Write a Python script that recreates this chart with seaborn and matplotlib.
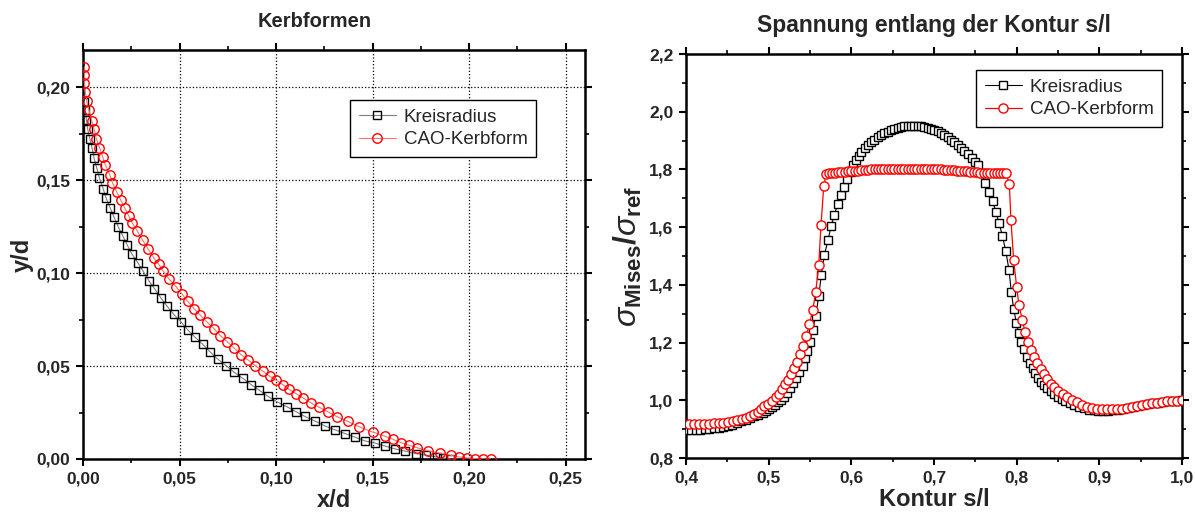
import numpy as np
import pandas as pd
import seaborn as sns
import matplotlib.pyplot as plt
from matplotlib.ticker import FuncFormatter, MultipleLocator

# ---- Kerbformen (left panel) ----
kreis_x = [0.0007, 0.0012, 0.0017, 0.0024, 0.0035, 0.0047, 0.0057, 0.0071, 0.0085, 0.0104,
           0.0119, 0.0140, 0.0161, 0.0182, 0.0206, 0.0230, 0.0254, 0.0284, 0.0312, 0.0341,
           0.0370, 0.0403, 0.0434, 0.0469, 0.0507, 0.0543, 0.0580, 0.0620, 0.0658, 0.0697,
           0.0741, 0.0784, 0.0827, 0.0871, 0.0914, 0.0957, 0.1007, 0.1056, 0.1104, 0.1149,
           0.1201, 0.1253, 0.1305, 0.1357, 0.1409, 0.1461, 0.1514, 0.1566, 0.1618, 0.1670,
           0.1724, 0.1779, 0.1831, 0.1865, 0.1900]
kreis_y = [0.1922, 0.1879, 0.1825, 0.1775, 0.1723, 0.1671, 0.1619, 0.1565, 0.1511, 0.1455,
           0.1405, 0.1352, 0.1300, 0.1250, 0.1200, 0.1149, 0.1101, 0.1056, 0.1009, 0.0959,
           0.0917, 0.0867, 0.0824, 0.0779, 0.0738, 0.0694, 0.0655, 0.0617, 0.0576, 0.0538,
           0.0502, 0.0466, 0.0434, 0.0400, 0.0369, 0.0338, 0.0306, 0.0281, 0.0254, 0.0229,
           0.0204, 0.0178, 0.0157, 0.0137, 0.0117, 0.0097, 0.0085, 0.0069, 0.0054, 0.0042,
           0.0029, 0.0020, 0.0011, 0.0005, 0.0000]

cao_x = [0.0007, 0.0007, 0.0007, 0.0012, 0.0019, 0.0031, 0.0045, 0.0057, 0.0069, 0.0085,
         0.0102, 0.0116, 0.0138, 0.0152, 0.0175, 0.0194, 0.0215, 0.0237, 0.0256, 0.0282,
         0.0308, 0.0337, 0.0367, 0.0391, 0.0415, 0.0443, 0.0483, 0.0511, 0.0542, 0.0575,
         0.0607, 0.0640, 0.0680, 0.0711, 0.0748, 0.0782, 0.0819, 0.0857, 0.0893, 0.0931,
         0.0966, 0.1002, 0.1035, 0.1068, 0.1104, 0.1139, 0.1180, 0.1222, 0.1268, 0.1317,
         0.1372, 0.1431, 0.1502, 0.1563, 0.1606, 0.1646, 0.1689, 0.1732, 0.1789, 0.1848,
         0.1904, 0.1947, 0.1990, 0.2030, 0.2072, 0.2111]
cao_y = [0.2109, 0.2064, 0.2023, 0.1975, 0.1924, 0.1876, 0.1820, 0.1775, 0.1723, 0.1676,
         0.1624, 0.1581, 0.1530, 0.1487, 0.1435, 0.1396, 0.1352, 0.1307, 0.1268, 0.1225,
         0.1178, 0.1130, 0.1081, 0.1049, 0.1011, 0.0971, 0.0926, 0.0889, 0.0849, 0.0809,
         0.0774, 0.0739, 0.0700, 0.0664, 0.0630, 0.0597, 0.0561, 0.0531, 0.0502, 0.0473,
         0.0446, 0.0423, 0.0400, 0.0374, 0.0351, 0.0329, 0.0302, 0.0279, 0.0254, 0.0227,
         0.0202, 0.0173, 0.0144, 0.0123, 0.0105, 0.0088, 0.0074, 0.0060, 0.0044, 0.0031,
         0.0020, 0.0011, 0.0006, 0.0002, 0.0000, 0.0000]

# ---- Spannung entlang der Kontur (right panel) ----
sp_kreis_x = [0.4008, 0.4063, 0.4118, 0.4173, 0.4228, 0.4283, 0.4338, 0.4393, 0.4448, 0.4503,
              0.4558, 0.4613, 0.4668, 0.4723, 0.4775, 0.4825, 0.4875, 0.4925, 0.4968, 0.5005,
              0.5040, 0.5075, 0.5110, 0.5145, 0.5182,
              0.5218, 0.5258, 0.5298, 0.5331, 0.5371, 0.5412, 0.5440, 0.5467, 0.5500, 0.5533,
              0.5569, 0.5605, 0.5637, 0.5673, 0.5718, 0.5754, 0.5794, 0.5835, 0.5871, 0.5915,
              0.5951, 0.5992,
              0.6024, 0.6057, 0.6089, 0.6121, 0.6162, 0.6198, 0.6238, 0.6278, 0.6319, 0.6359,
              0.6399, 0.6440, 0.6480, 0.6520, 0.6561, 0.6601, 0.6641, 0.6682, 0.6722, 0.6762,
              0.6803, 0.6843, 0.6883, 0.6924, 0.6964, 0.7004, 0.7045, 0.7085, 0.7125, 0.7166,
              0.7206, 0.7246, 0.7287, 0.7327, 0.7367, 0.7416, 0.7460, 0.7496, 0.7536,
              0.7575, 0.7617, 0.7669, 0.7710, 0.7746, 0.7786, 0.7826, 0.7867, 0.7907, 0.7935,
              0.7964, 0.7996, 0.8024, 0.8056, 0.8093, 0.8129, 0.8161, 0.8194, 0.8226, 0.8262,
              0.8298, 0.8335, 0.8371, 0.8416, 0.8456, 0.8496, 0.8545, 0.8589, 0.8645, 0.8697,
              0.8750, 0.8810, 0.8870, 0.8930, 0.8990, 0.9050, 0.9110, 0.9170, 0.9230, 0.9290,
              0.9350, 0.9410, 0.9470, 0.9530, 0.9590, 0.9650, 0.9710, 0.9770, 0.9830, 0.9890,
              0.9950, 1.0000]
sp_kreis_y = [0.897, 0.897, 0.897, 0.898, 0.900, 0.902, 0.903, 0.905, 0.908, 0.911,
              0.916, 0.921, 0.927, 0.933, 0.938, 0.944, 0.950, 0.957, 0.963, 0.970,
              0.977, 0.984, 0.993, 1.001, 1.011,
              1.024, 1.042, 1.059, 1.076, 1.099, 1.119, 1.146, 1.172, 1.203, 1.243,
              1.293, 1.361, 1.435, 1.503, 1.556, 1.603, 1.642, 1.680, 1.712, 1.740,
              1.766, 1.791,
              1.816, 1.833, 1.847, 1.860, 1.873, 1.885, 1.894, 1.903, 1.911, 1.918,
              1.925, 1.931, 1.937, 1.941, 1.945, 1.947, 1.950, 1.951, 1.952, 1.952,
              1.951, 1.950, 1.947, 1.945, 1.941, 1.937, 1.932, 1.926, 1.920, 1.911,
              1.903, 1.894, 1.885, 1.876, 1.865, 1.854, 1.841, 1.827, 1.816,
              1.787, 1.752, 1.723, 1.692, 1.654, 1.616, 1.571, 1.519, 1.452, 1.376,
              1.316, 1.269, 1.234, 1.203, 1.177, 1.149, 1.130, 1.111, 1.094, 1.078,
              1.064, 1.053, 1.042, 1.031, 1.022, 1.012, 1.004, 0.997, 0.990, 0.984,
              0.978, 0.972, 0.968, 0.965, 0.964, 0.963, 0.964, 0.966, 0.968, 0.970,
              0.973, 0.977, 0.980, 0.984, 0.987, 0.990, 0.992, 0.995, 0.997, 0.999,
              0.999, 1.001]

sp_cao_x = [0.4040, 0.4097, 0.4157, 0.4218, 0.4278, 0.4339, 0.4396, 0.4451, 0.4508, 0.4565,
            0.4621, 0.4674, 0.4726, 0.4774, 0.4823, 0.4867, 0.4904, 0.4947, 0.4996, 0.5037,
            0.5085, 0.5121, 0.5158, 0.5194, 0.5238, 0.5274, 0.5310, 0.5346, 0.5383, 0.5419,
            0.5456, 0.5492, 0.5533, 0.5569, 0.5605, 0.5633, 0.5666,
            0.5694, 0.5725, 0.5760, 0.5800, 0.5840, 0.5880, 0.5920, 0.5960, 0.6000, 0.6040,
            0.6080, 0.6120, 0.6160, 0.6200, 0.6240, 0.6280, 0.6320, 0.6360, 0.6400, 0.6440,
            0.6480, 0.6520, 0.6560, 0.6600, 0.6640, 0.6680, 0.6720, 0.6760, 0.6800, 0.6840,
            0.6880, 0.6920, 0.6960, 0.7000, 0.7040, 0.7080, 0.7120, 0.7160, 0.7200, 0.7240,
            0.7280, 0.7320, 0.7360, 0.7400, 0.7440, 0.7480, 0.7520, 0.7560, 0.7600, 0.7640,
            0.7680, 0.7720, 0.7760, 0.7800, 0.7840, 0.7871,
            0.7911, 0.7931, 0.7964, 0.8000, 0.8028, 0.8068, 0.8101, 0.8137, 0.8170, 0.8210,
            0.8250, 0.8290, 0.8330, 0.8370, 0.8410, 0.8452, 0.8504, 0.8557, 0.8609, 0.8666,
            0.8726, 0.8787, 0.8847, 0.8908, 0.8968, 0.9029, 0.9089, 0.9150, 0.9210, 0.9271,
            0.9331, 0.9392, 0.9452, 0.9513, 0.9573, 0.9634, 0.9694, 0.9755, 0.9815, 0.9875,
            0.9936, 0.9996]
sp_cao_y = [0.917, 0.918, 0.918, 0.918, 0.919, 0.920, 0.921, 0.922, 0.924, 0.927,
            0.931, 0.934, 0.940, 0.946, 0.954, 0.959, 0.969, 0.979, 0.987, 0.999,
            1.010, 1.023, 1.039, 1.055, 1.070, 1.091, 1.112, 1.134, 1.160, 1.188,
            1.223, 1.263, 1.313, 1.376, 1.468, 1.608, 1.743,
            1.783, 1.786, 1.788, 1.789, 1.790, 1.791, 1.792, 1.793, 1.794, 1.795,
            1.796, 1.797, 1.798, 1.799, 1.800, 1.800, 1.801, 1.801, 1.802, 1.802,
            1.802, 1.803, 1.803, 1.803, 1.803, 1.803, 1.803, 1.803, 1.803, 1.802,
            1.802, 1.802, 1.801, 1.801, 1.800, 1.800, 1.799, 1.798, 1.797, 1.797,
            1.796, 1.795, 1.794, 1.793, 1.792, 1.791, 1.790, 1.789, 1.788, 1.787,
            1.787, 1.786, 1.786, 1.786, 1.786, 1.786,
            1.750, 1.624, 1.485, 1.392, 1.329, 1.278, 1.237, 1.202, 1.174, 1.149,
            1.130, 1.110, 1.092, 1.075, 1.058, 1.045, 1.033, 1.022, 1.012, 1.001,
            0.993, 0.984, 0.978, 0.973, 0.971, 0.969, 0.969, 0.969, 0.969, 0.970,
            0.972, 0.977, 0.980, 0.984, 0.987, 0.990, 0.992, 0.995, 0.997, 0.999,
            0.999, 1.001]

sns.set_style("ticks")
plt.rcParams['font.family'] = ['Liberation Sans', 'DejaVu Sans']
plt.rcParams['mathtext.fontset'] = 'custom'
plt.rcParams['mathtext.rm'] = 'Liberation Sans'
plt.rcParams['mathtext.bf'] = 'Liberation Sans:bold'
plt.rcParams['mathtext.it'] = 'Liberation Sans:italic'
plt.rcParams['mathtext.sf'] = 'Liberation Sans'

fig = plt.figure(figsize=(11.95, 5.13), dpi=100)
ax1 = fig.add_axes([0.0695, 0.1053, 0.4200, 0.7970])
ax2 = fig.add_axes([0.5741, 0.1072, 0.4150, 0.7875])


def comma(fmt):
    return FuncFormatter(lambda v, p: (fmt % v).replace('.', ','))


def style_axes(ax):
    for s in ax.spines.values():
        s.set_color('black')
        s.set_linewidth(1.8)
    ax.tick_params(which='both', direction='out', color='black',
                   top=True, right=True, labeltop=False, labelright=False)
    ax.tick_params(which='major', length=5, width=1.5, labelsize=12.5, pad=4)
    ax.tick_params(which='minor', length=3, width=1.2)
    for lab in ax.get_xticklabels() + ax.get_yticklabels():
        lab.set_fontweight('bold')


def add_legend(ax, anchor):
    leg = ax.legend(loc='upper left', bbox_to_anchor=anchor, fontsize=13.5,
                    frameon=True, fancybox=False, edgecolor='black', framealpha=1,
                    handlelength=2.0, borderpad=0.45, labelspacing=0.3, handletextpad=0.4,
                    borderaxespad=0)
    leg.get_frame().set_linewidth(1.0)


# left: notch shapes
sns.lineplot(x=kreis_x, y=kreis_y, ax=ax1, sort=False, estimator=None,
             color='#808080', lw=0.8, marker='s', markersize=6,
             markerfacecolor='none', markeredgecolor='black', markeredgewidth=1.0,
             label='Kreisradius', zorder=3)
sns.lineplot(x=cao_x, y=cao_y, ax=ax1, sort=False, estimator=None,
             color='#ff7070', lw=0.8, marker='o', markersize=6.8,
             markerfacecolor='none', markeredgecolor='red', markeredgewidth=1.0,
             label='CAO-Kerbform', zorder=4)
ax1.set_xlim(0, 0.26)
ax1.set_ylim(0, 0.22)
ax1.xaxis.set_major_locator(MultipleLocator(0.05))
ax1.xaxis.set_minor_locator(MultipleLocator(0.025))
ax1.yaxis.set_major_locator(MultipleLocator(0.05))
ax1.yaxis.set_minor_locator(MultipleLocator(0.025))
ax1.xaxis.set_major_formatter(comma('%.2f'))
ax1.yaxis.set_major_formatter(comma('%.2f'))
ax1.grid(True, which='major', linestyle=':', color='black', linewidth=0.9)
ax1.set_axisbelow(True)
ax1.set_xlabel('x/d', fontsize=17, fontweight='bold', labelpad=2)
ax1.set_ylabel('y/d', fontsize=17, fontweight='bold', labelpad=2)
ax1.set_title('Kerbformen', fontsize=14.5, fontweight='bold', pad=17, x=0.462)
style_axes(ax1)
add_legend(ax1, (0.532, 0.878))

# right: stress along contour
sns.lineplot(x=sp_kreis_x, y=sp_kreis_y, ax=ax2, sort=False, estimator=None,
             color='black', lw=0.8, marker='s', markersize=5.6,
             markerfacecolor='white', markeredgecolor='black', markeredgewidth=1.0,
             label='Kreisradius', zorder=3)
sns.lineplot(x=sp_cao_x, y=sp_cao_y, ax=ax2, sort=False, estimator=None,
             color='red', lw=0.9, marker='o', markersize=6.6,
             markerfacecolor='white', markeredgecolor='red', markeredgewidth=1.0,
             label='CAO-Kerbform', zorder=4)
ax2.set_xlim(0.4, 1.0)
ax2.set_ylim(0.8, 2.2)
ax2.xaxis.set_major_locator(MultipleLocator(0.1))
ax2.xaxis.set_minor_locator(MultipleLocator(0.05))
ax2.yaxis.set_major_locator(MultipleLocator(0.2))
ax2.yaxis.set_minor_locator(MultipleLocator(0.1))
ax2.xaxis.set_major_formatter(comma('%.1f'))
ax2.yaxis.set_major_formatter(comma('%.1f'))
ax2.set_xlabel('Kontur s/l', fontsize=17, fontweight='bold', labelpad=2)
ax2.set_ylabel(r'$\sigma_{\mathbf{Mises}}\mathbf{/}\sigma_{\mathbf{ref}}$', fontsize=23, labelpad=4)
ax2.set_title('Spannung entlang der Kontur s/l', fontsize=16.5, fontweight='bold', pad=16)
style_axes(ax2)
add_legend(ax2, (0.585, 0.96))

fig.savefig('out.png', dpi=100)
